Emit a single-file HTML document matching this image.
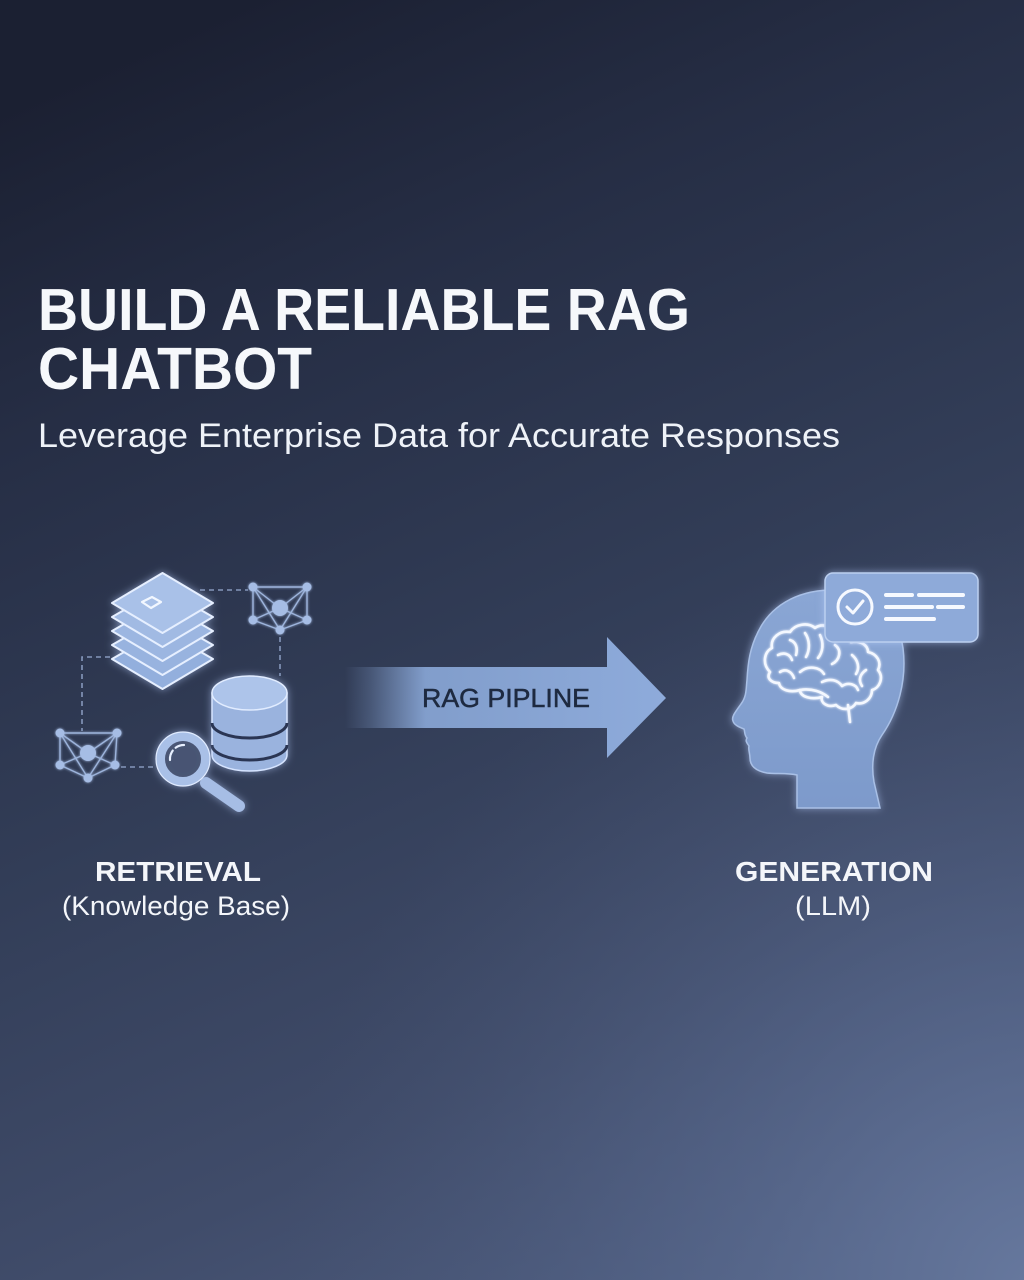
<!DOCTYPE html>
<html>
<head>
<meta charset="utf-8">
<style>
html,body{margin:0;padding:0;width:1024px;height:1280px;overflow:hidden;background:#2a3450;}
svg{display:block;}
</style>
</head>
<body>
<svg width="1024" height="1280" viewBox="0 0 1024 1280" xmlns="http://www.w3.org/2000/svg">
<defs>
  <linearGradient id="bg" gradientUnits="userSpaceOnUse" x1="250" y1="0" x2="820" y2="1280">
    <stop offset="0" stop-color="#1b2032"/>
    <stop offset="0.22" stop-color="#262e45"/>
    <stop offset="0.5" stop-color="#323d57"/>
    <stop offset="0.78" stop-color="#404c6a"/>
    <stop offset="1" stop-color="#4e5d80"/>
  </linearGradient>
  <radialGradient id="br" gradientUnits="userSpaceOnUse" cx="1040" cy="1290" r="760">
    <stop offset="0" stop-color="#6a7ca2" stop-opacity="0.9"/>
    <stop offset="0.5" stop-color="#5a6b90" stop-opacity="0.45"/>
    <stop offset="1" stop-color="#4a5878" stop-opacity="0"/>
  </radialGradient>
  <linearGradient id="arrowFade" gradientUnits="userSpaceOnUse" x1="345" y1="0" x2="666" y2="0">
    <stop offset="0" stop-color="#8aa8d8" stop-opacity="0"/>
    <stop offset="0.08" stop-color="#8aa8d8" stop-opacity="0.25"/>
    <stop offset="0.25" stop-color="#8aa8d8" stop-opacity="0.9"/>
    <stop offset="1" stop-color="#8eabdb" stop-opacity="1"/>
  </linearGradient>
  <linearGradient id="headG" x1="0" y1="0" x2="0" y2="1">
    <stop offset="0" stop-color="#8aa6d4"/>
    <stop offset="1" stop-color="#7d9acb"/>
  </linearGradient>
  <filter id="glow" x="-30%" y="-30%" width="160%" height="160%">
    <feGaussianBlur in="SourceAlpha" stdDeviation="4" result="b"/>
    <feFlood flood-color="#b9d0ff" flood-opacity="0.55"/>
    <feComposite in2="b" operator="in" result="g"/>
    <feMerge><feMergeNode in="g"/><feMergeNode in="SourceGraphic"/></feMerge>
  </filter>
  <filter id="softglow" x="-20%" y="-20%" width="140%" height="140%">
    <feGaussianBlur in="SourceGraphic" stdDeviation="1.2" result="b"/>
    <feMerge><feMergeNode in="b"/><feMergeNode in="SourceGraphic"/></feMerge>
  </filter>
</defs>

<!-- background -->
<rect x="0" y="0" width="1024" height="1280" fill="url(#bg)"/>
<rect x="0" y="0" width="1024" height="1280" fill="url(#br)"/>

<!-- Title -->
<g font-family="'Liberation Sans', Arial, sans-serif" fill="#f6f8fb">
  <text x="38" y="330" font-size="59" font-weight="700" textLength="652" lengthAdjust="spacingAndGlyphs">BUILD A RELIABLE RAG</text>
  <text x="38" y="389" font-size="59" font-weight="700" textLength="274" lengthAdjust="spacingAndGlyphs">CHATBOT</text>
  <text x="38" y="447" font-size="34" font-weight="400" textLength="802" lengthAdjust="spacingAndGlyphs" fill="#eef2f8">Leverage Enterprise Data for Accurate Responses</text>
</g>

<!-- Arrow -->
<path d="M345 667 L607 667 L607 637 L666 698 L607 758 L607 728 L345 728 Z" fill="url(#arrowFade)"/>
<text x="422" y="707" font-family="'Liberation Sans', Arial, sans-serif" font-size="26" fill="#1e2a40" stroke="#1e2a40" stroke-width="0.5" textLength="168" lengthAdjust="spacingAndGlyphs">RAG PIPLINE</text>

<!-- Left icon: dashed connectors -->
<g stroke="#8fa2c6" stroke-width="1.6" stroke-dasharray="5 4" fill="none" opacity="0.9">
  <path d="M200 590 L248 590"/>
  <path d="M280 637 L280 676"/>
  <path d="M110 657 L82 657 L82 731"/>
  <path d="M121 767 L158 767"/>
</g>

<!-- Layers stack -->
<g filter="url(#glow)" stroke="#e6efff" stroke-width="2" stroke-linejoin="round">
  <path d="M162.5 630 L213 659 L162.5 689 L112 659 Z" fill="#93afdd"/>
  <path d="M162.5 616 L213 645 L162.5 675 L112 645 Z" fill="#98b3df"/>
  <path d="M162.5 602 L213 631 L162.5 661 L112 631 Z" fill="#9cb6e1"/>
  <path d="M162.5 588 L213 617 L162.5 647 L112 617 Z" fill="#a1bae3"/>
  <path d="M162.5 573 L213 603 L162.5 633 L112 603 Z" fill="#a9c1e8"/>
</g>
<path d="M142 602 L152 597 L161 602 L151 608 Z" fill="none" stroke="#f2f7ff" stroke-width="2.2" stroke-linejoin="round"/>

<!-- Network top-right -->
<g filter="url(#softglow)">
  <g stroke="#9db4dc" stroke-width="1.4" fill="none">
    <path d="M253 587 L307 587 L307 620 L280 630 L253 620 Z"/>
    <path d="M253 587 L280 630 L307 587"/>
    <path d="M253 587 L280 608 L307 587 M253 620 L280 608 L307 620"/>
  </g>
  <g fill="#a6bde5">
    <circle cx="253" cy="587" r="4.5"/><circle cx="307" cy="587" r="4.5"/>
    <circle cx="253" cy="620" r="4.5"/><circle cx="307" cy="620" r="4.5"/>
    <circle cx="280" cy="630" r="4.5"/><circle cx="280" cy="608" r="8"/>
  </g>
</g>

<!-- Network bottom-left -->
<g filter="url(#softglow)">
  <g stroke="#9db4dc" stroke-width="1.4" fill="none">
    <path d="M60 733 L117 733 L115 765 L88 778 L60 765 Z"/>
    <path d="M60 733 L88 778 L117 733"/>
    <path d="M60 733 L88 753 L117 733 M60 765 L88 753 L115 765"/>
  </g>
  <g fill="#a6bde5">
    <circle cx="60" cy="733" r="4.5"/><circle cx="117" cy="733" r="4.5"/>
    <circle cx="60" cy="765" r="4.5"/><circle cx="115" cy="765" r="4.5"/>
    <circle cx="88" cy="778" r="4.5"/><circle cx="88" cy="753" r="8"/>
  </g>
</g>

<!-- Database -->
<g filter="url(#glow)">
  <path d="M212 693 L212 755 A37.5 16 0 0 0 287 755 L287 693 Z" fill="#9ab3de" stroke="#d6e4ff" stroke-width="1.5"/>
  <path d="M212 723 A37.5 15 0 0 0 287 723" fill="none" stroke="#2c3652" stroke-width="3"/>
  <path d="M212 745 A37.5 15 0 0 0 287 745" fill="none" stroke="#2c3652" stroke-width="3"/>
  <ellipse cx="249.5" cy="693" rx="37.5" ry="17" fill="#adc4ea" stroke="#e1ecff" stroke-width="1.5"/>
</g>

<!-- Magnifier -->
<g filter="url(#glow)">
  <line x1="206" y1="783" x2="239" y2="806" stroke="#a6bde5" stroke-width="12" stroke-linecap="round"/>
  <circle cx="183" cy="759" r="22.5" fill="#34405e" fill-opacity="0.85" stroke="#a9c0e7" stroke-width="9"/>
  <circle cx="183" cy="759" r="27" fill="none" stroke="#e0ebff" stroke-width="1.2"/>
  <path d="M170 760 A14 14 0 0 1 184 745" fill="none" stroke="#e8f0ff" stroke-width="2.2" stroke-linecap="round" stroke-dasharray="10 4"/>
</g>

<!-- Head -->
<g filter="url(#glow)">
  <path d="M797 808 L797 775 C788 773 776 774 767 773 C756 771 750 766 750 758 C750 753 748 750 749 746 C747 743 745 741 747 738 C744 735 745 731 744 729 C739 727 734 725 733 721 C731 717 736 711 741 704 C747 696 746 688 747 680 C748 662 750 648 758 632 C770 607 795 591 830 590 C870 590 898 613 903 648 C907 680 898 712 882 735 C873 748 871 765 874 782 L880 808 Z" fill="url(#headG)" stroke="#a9c0e6" stroke-width="1.5"/>
</g>

<!-- Brain -->
<g fill="none" stroke="#f4f8ff" stroke-width="2.6" stroke-linecap="round" stroke-linejoin="round" filter="url(#softglow)">
  <path d="M770 672 C762 664 764 652 772 648 C770 638 780 630 790 632 C795 624 808 622 815 628 C822 623 832 626 834 634 C842 632 850 636 851 642 C860 640 868 645 868 652 C877 654 882 662 878 670 C884 677 880 688 872 690 C872 699 864 705 856 703 C852 710 842 711 836 705 C828 708 820 703 822 697 C812 700 800 697 800 690 C790 693 780 690 779 683 C771 683 766 678 770 672 Z"/>
  <path d="M848 705 L850 722"/>
  <path d="M778 655 C784 652 790 654 792 660"/>
  <path d="M790 640 C796 642 798 648 796 655"/>
  <path d="M805 633 C810 640 810 650 806 657"/>
  <path d="M820 635 C824 643 823 652 818 658"/>
  <path d="M835 645 C842 650 840 660 832 664"/>
  <path d="M800 672 C808 665 820 667 824 674"/>
  <path d="M780 672 C786 668 792 672 794 678"/>
  <path d="M822 682 C830 678 838 680 842 686 C848 682 856 684 858 690"/>
  <path d="M852 655 C858 660 860 668 856 674"/>
  <path d="M866 670 C860 674 858 680 862 686"/>
  <path d="M800 690 C812 688 822 692 828 697"/>
</g>

<!-- Callout box -->
<g filter="url(#glow)">
  <rect x="825" y="573" width="153" height="69" rx="8" fill="#8eaad9" stroke="#bcd0f0" stroke-width="1.5"/>
</g>
<g stroke="#f6f9ff" fill="none" stroke-linecap="round" stroke-linejoin="round">
  <circle cx="855" cy="607" r="17" stroke-width="3"/>
  <path d="M847 607 L853 613 L863 601" stroke-width="3"/>
  <g stroke-width="4">
    <path d="M886 595 L912 595 M919 595 L963 595"/>
    <path d="M886 607 L932 607 M938 607 L963 607"/>
    <path d="M886 619 L934 619"/>
  </g>
</g>

<!-- Labels -->
<g font-family="'Liberation Sans', Arial, sans-serif" fill="#f4f6fa">
  <text x="95" y="881" font-size="28" font-weight="700" textLength="166" lengthAdjust="spacingAndGlyphs">RETRIEVAL</text>
  <text x="62" y="915" font-size="27" textLength="228" lengthAdjust="spacingAndGlyphs">(Knowledge Base)</text>
  <text x="735" y="881" font-size="28" font-weight="700" textLength="198" lengthAdjust="spacingAndGlyphs">GENERATION</text>
  <text x="795" y="915" font-size="27" textLength="76" lengthAdjust="spacingAndGlyphs">(LLM)</text>
</g>
</svg>
</body>
</html>
